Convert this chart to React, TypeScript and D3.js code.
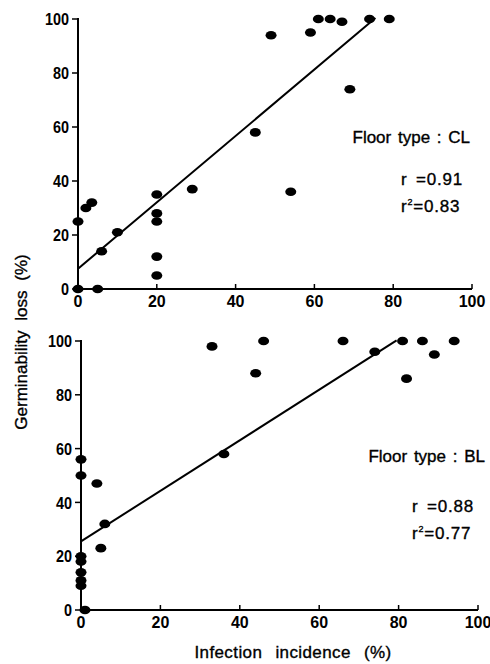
import React from 'react';
import * as d3 from 'd3';

// Floor type CL: infection incidence (%) vs germinability loss (%)
const clInfection = [0, 0, 2, 3.5, 5, 6, 10, 20, 20, 20, 20, 20, 29, 45, 49, 54, 59, 61, 64, 67, 69, 74, 79];
const clLoss = [25, 0, 30, 32, 0, 14, 21, 35, 28, 25, 12, 5, 37, 58, 94, 36, 95, 100, 100, 99, 74, 100, 100];

// Floor type BL
const blInfection = [0, 0, 0, 0, 0, 0, 0, 1, 4, 5, 6, 33, 36, 44, 46, 66, 74, 81, 82, 86, 89, 94];
const blLoss = [56, 50, 20, 18, 14, 11, 9, 0, 47, 23, 32, 98, 58, 88, 100, 100, 96, 100, 86, 100, 95, 100];

// regression lines: [intercept, slope, last x]
const clFit = [7.5, 1.23, 75.5];
const blFit = [25.5, 0.94, 79.5];

const xTicks = [0, 20, 40, 60, 80, 100];
const yTicks = [0, 20, 40, 60, 80, 100];

const panelLabels = ['Floor type : CL', 'Floor type : BL'];
const rValues = ['0.91', '0.88'];
const r2Values = ['0.83', '0.77'];

const FONT = '"Liberation Sans", Arial, sans-serif';
// scanned print looks heavier than a plain regular face
const ink = { fontFamily: FONT, fill: '#000', stroke: '#000', strokeWidth: 0.35 };

type PanelProps = {
  xs: number[];
  ys: number[];
  fit: number[];
  left: number;
  right: number;
  top: number;
  bottom: number;
  label: string;
  r: string;
  r2: string;
  labelPos: [number, number];
  statPos: [number, number];
};

const Panel = ({ xs, ys, fit, left, right, top, bottom, label, r, r2, labelPos, statPos }: PanelProps) => {
  const x = d3.scaleLinear().domain([0, 100]).range([left, right]);
  const y = d3.scaleLinear().domain([0, 100]).range([bottom, top]);

  const [b0, b1, xEnd] = fit;
  const line = d3.line<number>()
    .x(d => x(d))
    .y(d => y(b0 + b1 * d));

  return (
    <g>
      {/* axes */}
      <line x1={x(0)} x2={x(0)} y1={y(0)} y2={y(100) - 1} stroke="#000" strokeWidth={2} />
      <line x1={x(0)} x2={x(100)} y1={y(0)} y2={y(0)} stroke="#000" strokeWidth={2} />

      {yTicks.map(t => (
        <g key={'y' + t}>
          <line x1={x(0) - 6} x2={x(0)} y1={y(t)} y2={y(t)} stroke="#000" strokeWidth={1.5} />
          <text x={x(0) - 9} y={y(t)} dy="0.36em" textAnchor="end"
            fontFamily={FONT} fontSize={16} fontWeight="bold"
            transform={`translate(${x(0) - 9},0) scale(0.9,1.08) translate(${-(x(0) - 9)},${-y(t) * 0.08 / 1.08})`}>{t}</text>
        </g>
      ))}

      {xTicks.map(t => (
        <g key={'x' + t}>
          {t > 0 && <line x1={x(t)} x2={x(t)} y1={y(0)} y2={y(0) - 5} stroke="#000" strokeWidth={1.5} />}
          <text x={x(t)} y={y(0) + 18} textAnchor="middle"
            fontFamily={FONT} fontSize={16} fontWeight="bold">{t}</text>
        </g>
      ))}

      {/* regression line */}
      <path d={line([0, xEnd]) ?? ''} fill="none" stroke="#000" strokeWidth={2} />

      {/* points */}
      {xs.map((v, i) => (
        <ellipse key={i} cx={x(v)} cy={y(ys[i])} rx={5.5} ry={4.3} fill="#000" />
      ))}

      <text x={labelPos[0]} y={labelPos[1]} textAnchor="end" fontSize={17} wordSpacing={2} {...ink}>{label}</text>
      <text x={statPos[0]} y={statPos[1]} fontSize={17} letterSpacing={0.8} {...ink}>
        r <tspan dx={3}>=</tspan>{r}
      </text>
      <text x={statPos[0]} y={statPos[1] + 27} fontSize={17} letterSpacing={0.8} {...ink}>
        r<tspan dy={-7} fontSize={9}>2</tspan><tspan dy={7}>=</tspan>{r2}
      </text>
    </g>
  );
};

const App = () => {
  return (
    <svg width={490} height={664} style={{ position: 'absolute', left: 0, top: 0, background: '#fff' }}>
      <Panel xs={clInfection} ys={clLoss} fit={clFit}
        left={78} right={472} top={19} bottom={289}
        label={panelLabels[0]} r={rValues[0]} r2={r2Values[0]}
        labelPos={[470, 143]} statPos={[401, 185]} />
      <Panel xs={blInfection} ys={blLoss} fit={blFit}
        left={81} right={478} top={341} bottom={610}
        label={panelLabels[1]} r={rValues[1]} r2={r2Values[1]}
        labelPos={[485, 462]} statPos={[412, 512]} />

      <text transform="translate(27,342) rotate(-90)" textAnchor="middle"
        fontSize={17} wordSpacing={5} {...ink}>Germinability loss (%)</text>
      <text x={293} y={658} textAnchor="middle"
        fontSize={17} wordSpacing={8} letterSpacing={0.4} {...ink}>Infection incidence (%)</text>
    </svg>
  );
};

export default App;
